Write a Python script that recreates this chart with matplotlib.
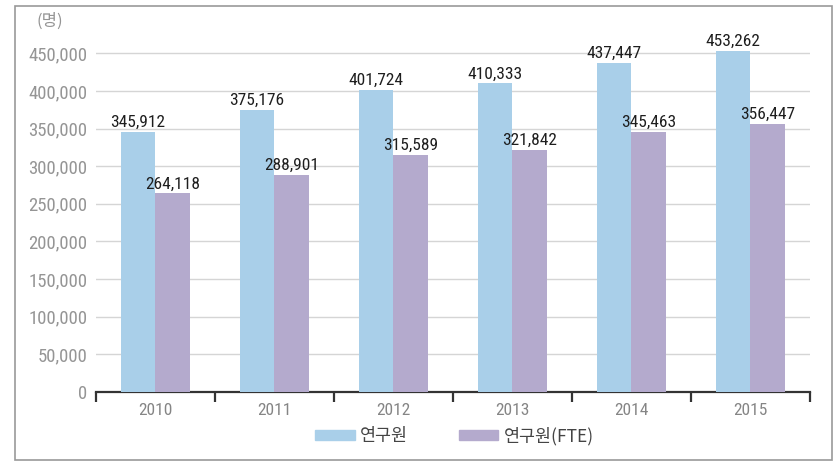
import matplotlib.pyplot as plt
import matplotlib.patches as mpatches
import numpy as np

years = ['2010', '2011', '2012', '2013', '2014', '2015']
researchers = [345912, 375176, 401724, 410333, 437447, 453262]
researchers_fte = [264118, 288901, 315589, 321842, 345463, 356447]
y_ticks = [0, 50000, 100000, 150000, 200000, 250000, 300000, 350000, 400000, 450000]

BLUE = '#a9cfe9'
PURPLE = '#b4aacd'
narrow = ['Roboto Condensed', 'Liberation Sans Narrow', 'Roboto', 'DejaVu Sans']
kr = ['Noto Sans CJK KR', 'DejaVu Sans']

fig = plt.figure(figsize=(8.4, 4.75), dpi=100)
ax = fig.add_axes([0.114, 0.175, 0.850, 0.760])

x = np.arange(len(years))
w = 0.29
b1 = ax.bar(x - w / 2, researchers, w, color=BLUE, zorder=3)
b2 = ax.bar(x + w / 2, researchers_fte, w, color=PURPLE, zorder=3)

for rect, v in zip(list(b1) + list(b2), researchers + researchers_fte):
    ax.text(rect.get_x() + rect.get_width() / 2, v + 2500, f'{v:,}',
            ha='center', va='bottom', fontsize=12.5, color='#1e1e1e',
            family=narrow, zorder=4)

ax.set_xlim(-0.5, len(years) - 0.5)
ax.set_ylim(0, 480000)
ax.set_yticks(y_ticks)
ax.set_yticklabels([f'{t:,}' for t in y_ticks], family=narrow, fontsize=13.5, color='#959595')
ax.tick_params(axis='y', length=0, pad=6)
for t in y_ticks[1:]:
    ax.axhline(t, color='#d5d5d5', lw=1, zorder=1)

ax.set_xticks(x)
ax.set_xticklabels(years, family=narrow, fontsize=12.5, color='#858585')
ax.tick_params(axis='x', which='major', length=0, pad=8)
ax.set_xticks(np.arange(-0.5, len(years)), minor=True)
ax.tick_params(axis='x', which='minor', length=7, width=1.6, color='#333333', direction='out')

for s in ['top', 'right', 'left']:
    ax.spines[s].set_visible(False)
ax.spines['bottom'].set_color('#333333')
ax.spines['bottom'].set_linewidth(1.6)

fig.text(0.044, 0.955, '(명)', family=kr, fontsize=12, color='#959595', va='center')

handles = [mpatches.Patch(color=BLUE, label='연구원'),
           mpatches.Patch(color=PURPLE, label='연구원(FTE)')]
fig.legend(handles=handles, loc='center', bbox_to_anchor=(0.541, 0.082), ncol=2,
           frameon=False, prop={'family': kr, 'size': 12.5}, handlelength=2.3,
           handleheight=0.45, handletextpad=0.3, columnspacing=2.9, labelcolor='#444444')

border = mpatches.Rectangle((0.018, 0.032), 0.973, 0.955, transform=fig.transFigure,
                            fill=False, edgecolor='#999999', lw=1.2)
fig.add_artist(border)

fig.savefig('out.png', dpi=100)
